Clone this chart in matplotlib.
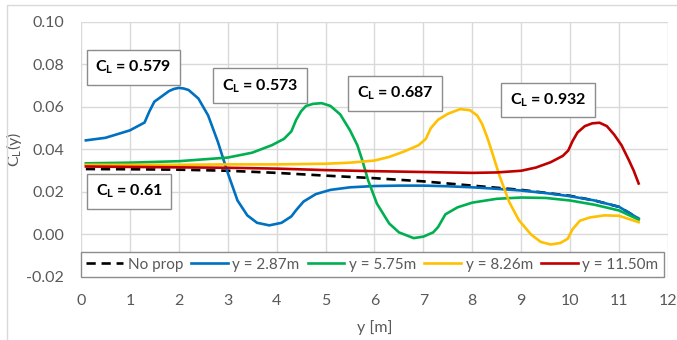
import matplotlib
matplotlib.use("Agg")
import matplotlib.pyplot as plt
from matplotlib.patches import Rectangle

plt.rcParams["font.family"] = ["Lato", "DejaVu Sans"]
plt.rcParams["mathtext.fontset"] = "custom"
plt.rcParams["mathtext.rm"] = "Lato"
plt.rcParams["mathtext.bf"] = "Lato:bold"
plt.rcParams["axes.unicode_minus"] = False

# spanwise lift distribution
x_noprop = [0.1, 1, 2, 3, 4, 5, 6, 7, 8, 9, 10, 10.5, 11, 11.4]
cl_noprop = [0.0308, 0.0307, 0.0305, 0.030, 0.029, 0.0277, 0.0265, 0.025, 0.023, 0.021, 0.0182, 0.016, 0.013, 0.0075]

x_287 = [0.1, 0.5, 1.0, 1.3, 1.4, 1.5, 1.65, 1.8, 1.9, 2.0, 2.1, 2.2, 2.4, 2.6, 2.8, 3.0, 3.2, 3.4, 3.6, 3.85,
         4.1, 4.3, 4.4, 4.55, 4.8, 5.1, 5.5, 6.0, 6.5, 7.0, 7.5, 8.0, 8.5, 9.0, 9.5, 10.0, 10.5, 11.0, 11.4]
cl_287 = [0.0443, 0.0455, 0.049, 0.0527, 0.058, 0.0625, 0.065, 0.0675, 0.0685, 0.069, 0.0687, 0.068, 0.064,
          0.056, 0.0435, 0.029, 0.016, 0.009, 0.0055, 0.0043, 0.0055, 0.0085, 0.0115, 0.0155, 0.019, 0.021,
          0.0222, 0.0228, 0.023, 0.023, 0.0227, 0.0222, 0.0215, 0.0207, 0.0195, 0.018, 0.016, 0.013, 0.0075]

x_575 = [0.1, 1, 2, 3, 3.5, 3.9, 4.15, 4.3, 4.4, 4.5, 4.6, 4.75, 4.92, 5.1, 5.3, 5.5, 5.65, 5.75, 5.87,
         6.05, 6.3, 6.5, 6.8, 7.0, 7.2, 7.3, 7.45, 7.7, 8.0, 8.5, 9.0, 9.5, 10.0, 10.5, 11.0, 11.4]
cl_575 = [0.0335, 0.0338, 0.0345, 0.0362, 0.0385, 0.042, 0.045, 0.0485, 0.054, 0.058, 0.0605, 0.0615,
          0.0618, 0.0605, 0.0565, 0.049, 0.042, 0.035, 0.0255, 0.0145, 0.0052, 0.001, -0.0017, -0.001,
          0.001, 0.0035, 0.0095, 0.0128, 0.015, 0.0168, 0.0174, 0.0172, 0.016, 0.014, 0.0113, 0.007]

x_826 = [0.1, 1, 2, 3, 4, 5, 5.5, 6, 6.3, 6.6, 6.9, 7.05, 7.15, 7.3, 7.5, 7.75, 7.95, 8.1, 8.2, 8.3, 8.4,
         8.55, 8.75, 8.95, 9.2, 9.4, 9.6, 9.8, 9.95, 10.05, 10.2, 10.4, 10.7, 11.0, 11.4]
cl_826 = [0.0328, 0.0328, 0.0328, 0.033, 0.033, 0.0333, 0.0338, 0.0348, 0.0365, 0.039, 0.042, 0.045,
          0.050, 0.054, 0.0568, 0.059, 0.0585, 0.056, 0.052, 0.046, 0.039, 0.028, 0.0155, 0.0068, 0.0,
          -0.0035, -0.0047, -0.004, -0.002, 0.0025, 0.0065, 0.008, 0.009, 0.0088, 0.0058]

x_1150 = [0.1, 1, 2, 3, 4, 5, 6, 7, 8, 8.5, 9.0, 9.3, 9.6, 9.85, 9.96, 10.05, 10.15, 10.3, 10.45, 10.6,
          10.75, 10.9, 11.05, 11.2, 11.3, 11.4]
cl_1150 = [0.032, 0.0318, 0.0316, 0.0314, 0.031, 0.0303, 0.0298, 0.0294, 0.029, 0.0292, 0.030, 0.0315,
           0.034, 0.037, 0.0395, 0.044, 0.048, 0.051, 0.0523, 0.0526, 0.051, 0.047, 0.042, 0.035, 0.030, 0.024]

labels = ["No prop", "y = 2.87m", "y = 5.75m", "y = 8.26m", "y = 11.50m"]
colors = ["black", "#0070C0", "#00B050", "#FFC000", "#C00000"]

cl_totals = ["0.579", "0.573", "0.687", "0.932", "0.61"]
box_pos = [(1.07, 0.0788), (3.66, 0.0699), (6.42, 0.0664), (9.55, 0.0633), (0.99, 0.0204)]

fig = plt.figure(figsize=(6.77, 3.40), dpi=100)
ax = fig.add_axes([0.1196, 0.1853, 0.8671, 0.75])

xs = [x_noprop, x_287, x_575, x_826, x_1150]
ys = [cl_noprop, cl_287, cl_575, cl_826, cl_1150]
for i in range(5):
    ls = (0, (3.5, 2.2)) if i == 0 else "-"
    ax.plot(xs[i], ys[i], color=colors[i], lw=1.9, ls=ls, label=labels[i], zorder=3)

ax.set_xlim(0, 12)
ax.set_ylim(-0.02, 0.10)
ax.set_xticks(range(0, 13))
ax.set_yticks([-0.02, 0.0, 0.02, 0.04, 0.06, 0.08, 0.10])
ax.set_yticklabels(["%.2f" % v for v in [-0.02, 0.0, 0.02, 0.04, 0.06, 0.08, 0.10]])
ax.grid(color="#d9d9d9", lw=1)
ax.set_axisbelow(True)
for s in ax.spines.values():
    s.set_visible(False)
ax.tick_params(length=0, pad=12, labelsize=11.5, labelcolor="#595959")

ax.set_xlabel("y [m]", fontsize=11.5, color="#595959", labelpad=9)
ax.set_ylabel(r"C$_\mathregular{L}$(y)", fontsize=11.5, color="#595959", labelpad=2)

for lab, (bx, by) in zip(cl_totals, box_pos):
    ax.text(bx, by, r"$\mathbf{C_L}$ = " + lab, fontsize=11.5, fontweight="bold", ha="center", va="center",
            zorder=5, bbox=dict(boxstyle="square,pad=0.55", fc="white", ec="#8c8c8c", lw=1))

leg = ax.legend(loc="lower left", bbox_to_anchor=(0, 0, 0.993, 0.1), mode="expand", ncol=5,
                borderaxespad=0, fancybox=False, framealpha=1, edgecolor="#8c8c8c", fontsize=11,
                handlelength=2.4, columnspacing=0.3, handletextpad=0.3, borderpad=0.35)
leg.get_frame().set_linewidth(1)
for t in leg.get_texts():
    t.set_color("#595959")

fig.patches.append(Rectangle((7 / 677, -0.1), 2, 1.085, transform=fig.transFigure, fill=False,
                             ec="#d9d9d9", lw=1))

fig.savefig("out.png", dpi=100)
